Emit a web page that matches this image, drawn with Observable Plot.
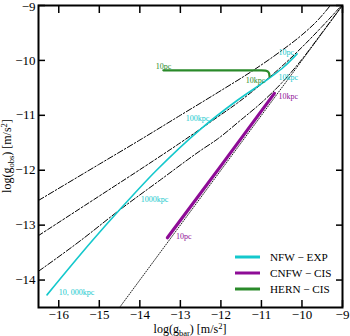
<!DOCTYPE html>
<html><head><meta charset="utf-8">
<script src="https://cdn.jsdelivr.net/npm/d3@7"></script>
<script src="https://cdn.jsdelivr.net/npm/@observablehq/plot@0.6"></script>
<style>body{margin:0;background:#fff} #chart{width:350px;height:336px}</style>
</head><body><div id="chart"></div>
<script>
// ---- data ----
const xTicks = [-16, -15, -14, -13, -12, -11, -10, -9];
const yTicks = [-14, -13, -12, -11, -10, -9];

const oneX = [-14.5, -9];
const oneY = [-14.5, -9];

const upperX = [-16.5, -15, -14, -13, -12, -11.2, -10.5, -10, -9.6, -9.3];
const upperY = [-12.55, -11.89, -11.45, -11.0, -10.55, -10.18, -9.82, -9.535, -9.26, -9.0];

const middleX = [-16.5, -15, -14, -13, -12.08, -11.6, -11, -10.53, -10, -9.5, -9];
const middleY = [-13.19, -12.47, -11.99, -11.5, -11.03, -10.78, -10.43, -10.13, -9.76, -9.38, -8.98];

const lowerX = [-16.5, -15.46, -14.51, -13.5, -12.5, -12.08, -11.5, -11, -10.5, -10, -9.5, -9];
const lowerY = [-13.84, -13.28, -12.73, -12.18, -11.64, -11.43, -11.08, -10.77, -10.41, -9.98, -9.49, -8.995];

const nfwX = [-16.29, -15.17, -14.51, -13.60, -12.50, -11.60, -10.78, -10.45, -10.12];
const nfwY = [-14.27, -13.28, -12.73, -12.01, -11.25, -10.73, -10.31, -10.12, -9.88];

const cnfwX = [-13.32, -12.0, -10.68];
const cnfwY = [-13.23, -11.92, -10.60];

const hernX = [-13.42, -11.0, -10.9, -10.84, -10.81, -10.80];
const hernY = [-10.18, -10.18, -10.185, -10.205, -10.24, -10.29];

const labelText = ["10pc", "10kpc", "10pc", "10kpc", "100kpc", "1000kpc", "10, 000kpc", "10kpc", "10pc"];
const labelX = [-13.61, -11.39, -10.58, -10.58, -12.87, -13.98, -16.0, -10.58, -13.11];
const labelY = [-10.11, -10.366, -9.856, -10.31, -11.06, -12.53, -14.23, -10.66, -13.21];
const labelSeries = ["HERN", "HERN", "NFW", "NFW", "NFW", "NFW", "NFW", "CNFW", "CNFW"];

const seriesNames = ["NFW \u2212 EXP", "CNFW \u2212 CIS", "HERN \u2212 CIS"];
const seriesKeys = ["NFW", "CNFW", "HERN"];
const seriesColors = ["#14c8cc", "#8e0c96", "#2a8a2a"];

// ---- helpers ----
const pts = (xs, ys) => xs.map((x, i) => ({x, y: ys[i]}));
const colorOf = k => seriesColors[seriesKeys.indexOf(k)];
const fmt = d => (d < 0 ? "\u2212" : "") + Math.abs(d);
const serif = "'Liberation Serif', 'Times New Roman', serif";
const labels = labelText.map((t, i) => ({text: t, x: labelX[i], y: labelY[i], c: colorOf(labelSeries[i])}));
const yTop = yTicks.filter(d => d === d3.max(yTicks));
const yRest = yTicks.filter(d => d !== d3.max(yTicks));

const chart = Plot.plot({
  width: 350, height: 336,
  marginLeft: 38, marginRight: 8, marginTop: 5, marginBottom: 29,
  x: {domain: [-16.5, -9]},
  y: {domain: [-14.5, -9]},
  style: {fontFamily: serif, fontSize: "13px", background: "white", color: "black", overflow: "visible"},
  marks: [
    Plot.line(pts(oneX, oneY), {x: "x", y: "y", stroke: "#222", strokeWidth: 1, strokeDasharray: "1,1.6", clip: true}),
    Plot.line(pts(upperX, upperY), {x: "x", y: "y", stroke: "black", strokeWidth: 1, strokeDasharray: "6,2,1.5,2", curve: "monotone-x", clip: true}),
    Plot.line(pts(middleX, middleY), {x: "x", y: "y", stroke: "black", strokeWidth: 1, strokeDasharray: "5,2,2,2", curve: "monotone-x", clip: true}),
    Plot.line(pts(lowerX, lowerY), {x: "x", y: "y", stroke: "black", strokeWidth: 1, strokeDasharray: "6,2,1.5,2", curve: "monotone-x", clip: true}),
    Plot.line(pts(nfwX, nfwY), {x: "x", y: "y", stroke: colorOf("NFW"), strokeWidth: 1.6, curve: "monotone-x", clip: true}),
    Plot.line(pts(cnfwX, cnfwY), {x: "x", y: "y", stroke: colorOf("CNFW"), strokeWidth: 3.2, clip: true}),
    Plot.line(pts(hernX, hernY), {x: "x", y: "y", stroke: colorOf("HERN"), strokeWidth: 2.2, curve: "monotone-x", clip: true}),
    Plot.text(labels, {x: "x", y: "y", text: "text", fill: "c", textAnchor: "start", fontSize: 8, fontFamily: serif}),
    Plot.frame({stroke: "black", strokeWidth: 2}),
    Plot.axisX(xTicks, {anchor: "bottom", tickSize: 0, tickPadding: 2, tickFormat: fmt, label: null, fontSize: 13}),
    Plot.axisX(xTicks, {anchor: "bottom", tickSize: -7, tickFormat: () => "", label: null, strokeWidth: 1.5}),
    Plot.axisX(xTicks, {anchor: "top", tickSize: -7, tickFormat: () => "", label: null, strokeWidth: 1.5}),
    Plot.axisY(yRest, {anchor: "left", tickSize: 0, tickPadding: 3, tickFormat: fmt, label: null, fontSize: 13}),
    Plot.axisY(yTop, {anchor: "left", tickSize: 0, tickPadding: 3, tickFormat: fmt, label: null, fontSize: 13, dy: 1.5}),
    Plot.axisY(yTicks, {anchor: "left", tickSize: -7, tickFormat: () => "", label: null, strokeWidth: 1.5}),
    Plot.axisY(yTicks, {anchor: "right", tickSize: -7, tickFormat: () => "", label: null, strokeWidth: 1.5})
  ]
});

const svg = d3.select(chart);
// axis titles with sub/superscripts
function title(g, sub, x, y, rot) {
  const t = g.append("text").attr("font-family", serif).attr("font-size", 12).attr("fill", "black")
    .attr("text-anchor", "middle")
    .attr("transform", `translate(${x},${y})` + (rot ? ` rotate(${rot})` : ""));
  t.append("tspan").text("log(g");
  t.append("tspan").attr("font-size", 8.5).attr("dy", 2.5).text(sub);
  t.append("tspan").attr("dy", -2.5).text(") [m/s");
  t.append("tspan").attr("font-size", 8.5).attr("dy", -4.5).text("2");
  t.append("tspan").attr("dy", 4.5).text("]");
}
title(svg, "bar", 190, 333, 0);
title(svg, "obs", 11, 156, -90);

// legend
const lg = svg.append("g");
seriesNames.forEach((name, i) => {
  const yy = 257 + i * 16;
  lg.append("line").attr("x1", 235).attr("x2", 260).attr("y1", yy).attr("y2", yy)
    .attr("stroke", seriesColors[i]).attr("stroke-width", 3);
  lg.append("text").attr("x", 270).attr("y", yy + 3.8).attr("font-family", serif)
    .attr("text-anchor", "start")
    .attr("font-size", 11.2).attr("fill", "black").text(name);
});

document.getElementById("chart").appendChild(chart);
</script>
</body></html>
